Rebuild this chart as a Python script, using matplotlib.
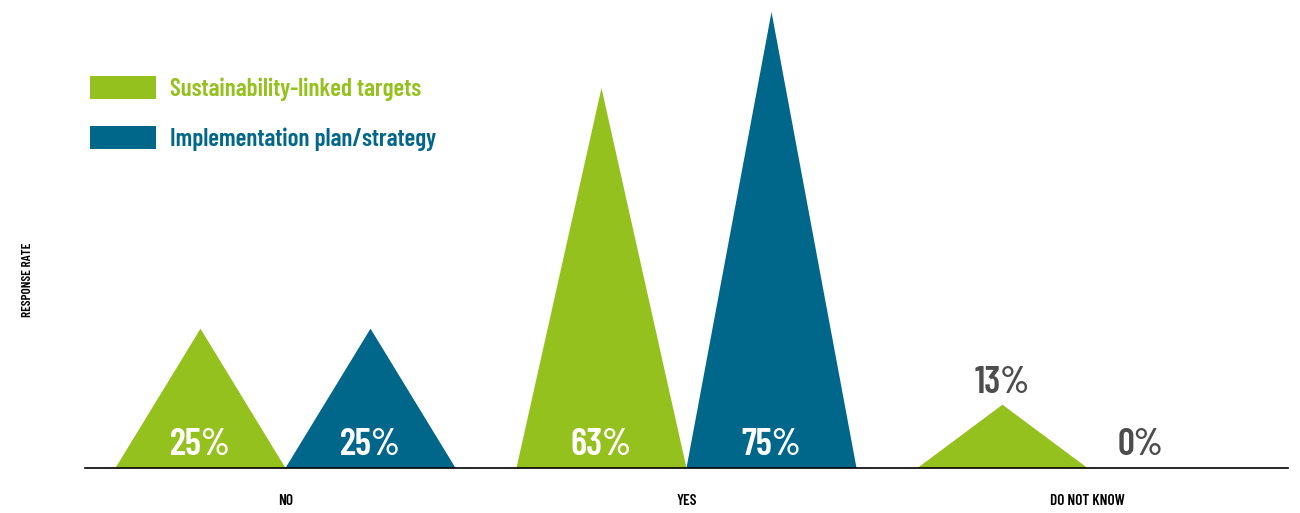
import matplotlib
matplotlib.use("Agg")
import matplotlib.pyplot as plt
from matplotlib.patches import Polygon, Patch

categories = ["NO", "YES", "DO NOT KNOW"]
series_names = ["Sustainability-linked targets", "Implementation plan/strategy"]
targets = [25, 63, 13]
plan = [25, 75, 0]
value_labels_targets = ["25%", "63%", "13%"]
value_labels_plan = ["25%", "75%", "0%"]

GREEN = "#95C11F"
BLUE = "#00668A"
GRAY = "#4D4D4D"

plt.rcParams["font.family"] = ["Barlow Condensed", "DejaVu Sans"]

W, H = 1300, 513
fig = plt.figure(figsize=(W / 100, H / 100), dpi=100)
ax = fig.add_axes([85 / W, 1 - 468 / H, 1203 / W, 456 / H])
base = 3
ax.set_xlim(-0.5, len(categories) - 0.5)
ax.set_ylim(base, 75)

half = 0.212
offsets = [-half, half]
colors = [GREEN, BLUE]
VSIZE = 27
for s, (vals, labs) in enumerate([(targets, value_labels_targets), (plan, value_labels_plan)]):
    for i, v in enumerate(vals):
        xc = i + offsets[s]
        if v > base:
            tri = Polygon([[xc - half, base], [xc, v], [xc + half, base]],
                          closed=True, facecolor=colors[s], edgecolor="none", clip_on=False)
            ax.add_patch(tri)
        if v >= 20:
            ax.text(xc, 6.7, labs[i], ha="center", va="center", color="white",
                    fontsize=VSIZE, fontweight="semibold")
        elif v > base:
            ax.text(xc, v + 3.4, labs[i], ha="center", va="center", color=GRAY,
                    fontsize=VSIZE, fontweight="semibold")
        else:
            ax.text(xc - 0.08, 6.7, labs[i], ha="center", va="center", color=GRAY,
                    fontsize=VSIZE, fontweight="semibold")

for sp in ["left", "right", "top"]:
    ax.spines[sp].set_visible(False)
ax.spines["bottom"].set_linewidth(1.2)
ax.set_yticks([])
ax.set_xticks(range(len(categories)))
ax.set_xticklabels(categories, fontsize=11, fontweight="semibold")
ax.tick_params(axis="x", length=0, pad=19)

fig.text(28 / W, 1 - 280 / H, "RESPONSE RATE", rotation=90, ha="center", va="center",
         fontsize=9.5, fontweight="semibold")

handles = [Patch(facecolor=c, edgecolor="none") for c in colors]
leg = fig.legend(handles, series_names, loc="upper left",
                 bbox_to_anchor=(90 / W, 1 - 76 / H), frameon=False,
                 prop={"size": 18, "weight": "semibold"}, labelcolor=colors,
                 handlelength=2.65, handleheight=1.05, handletextpad=0.55,
                 labelspacing=1.0, borderpad=0, borderaxespad=0)

fig.savefig("out.png", dpi=100)
